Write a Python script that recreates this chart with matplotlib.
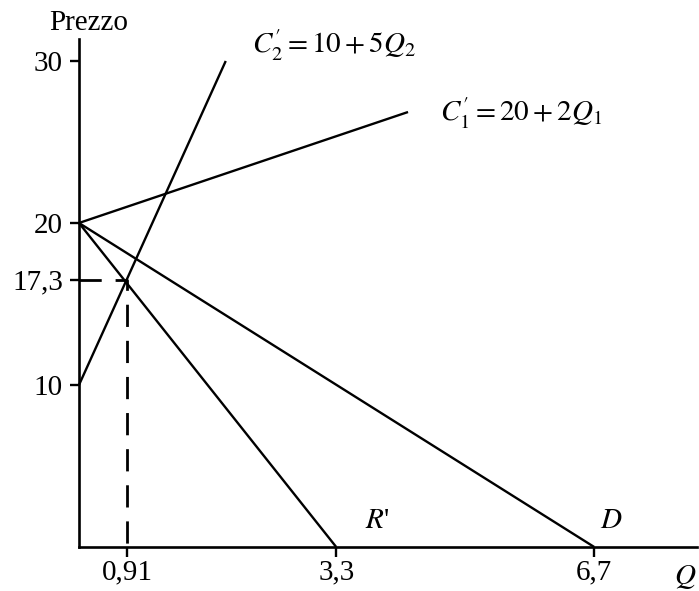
import matplotlib.pyplot as plt

plt.rcParams['font.family'] = ['Liberation Serif', 'DejaVu Serif']
plt.rcParams['mathtext.fontset'] = 'stix'

# curve endpoints (quantity, price)
c2_q = [0, 1.9]
c2_p = [10, 30]
c1_q = [0, 4.26]
c1_p = [20, 26.85]
r_q = [0, 3.33]
r_p = [20, 0]
d_q = [0, 6.67]
d_p = [20, 0]

# optimum marked with the dashed guide
opt_q = 0.62
opt_p = 16.5

x_ticks = [opt_q, 3.33, 6.67]
x_labels = ['0,91', '3,3', '6,7']
y_ticks = [10, opt_p, 20, 30]
y_labels = ['10', '17,3', '20', '30']

fig = plt.figure(figsize=(6.99, 5.91), dpi=100)
ax = fig.add_axes([0.113, 0.0745, 0.884, 0.8596])

lw = 1.7
for q, p in [(c2_q, c2_p), (c1_q, c1_p), (r_q, r_p), (d_q, d_p)]:
    ax.plot(q, p, color='black', lw=lw, clip_on=False, solid_capstyle='butt')

ax.plot([0, opt_q, opt_q], [opt_p, opt_p, 0], color='black', lw=2.0,
        dashes=(8, 5), clip_on=False)

ax.set_xlim(0, 8.0)
ax.set_ylim(0, 31.36)

for side in ['top', 'right']:
    ax.spines[side].set_visible(False)
for side in ['left', 'bottom']:
    ax.spines[side].set_linewidth(1.9)

ax.set_xticks(x_ticks)
ax.set_xticklabels(x_labels)
ax.set_yticks(y_ticks)
ax.set_yticklabels(y_labels)
ax.tick_params(axis='both', direction='out', width=1.7, labelsize=21)
ax.tick_params(axis='y', length=6.5, pad=5)
ax.tick_params(axis='x', length=7, pad=2)

fs = 21
ax.text(2.24, 31.0, r"$C^{\prime}_{2} = 10 + 5Q_2$", fontsize=fs, va='center', ha='left', clip_on=False)
ax.text(4.67, 26.8, r"$C^{\prime}_{1} = 20 + 2Q_1$", fontsize=fs, va='center', ha='left')
ax.text(3.70, 1.6, r"$R$'", fontsize=fs, va='center', ha='left')
ax.text(6.74, 1.6, r"$D$", fontsize=fs, va='center', ha='left')
ax.text(7.70, -1.85, r"$Q$", fontsize=fs, va='center', ha='left', clip_on=False)
ax.text(0.12, 32.35, "Prezzo", fontsize=fs, va='center', ha='center', clip_on=False)

fig.savefig("out.png", dpi=100)
